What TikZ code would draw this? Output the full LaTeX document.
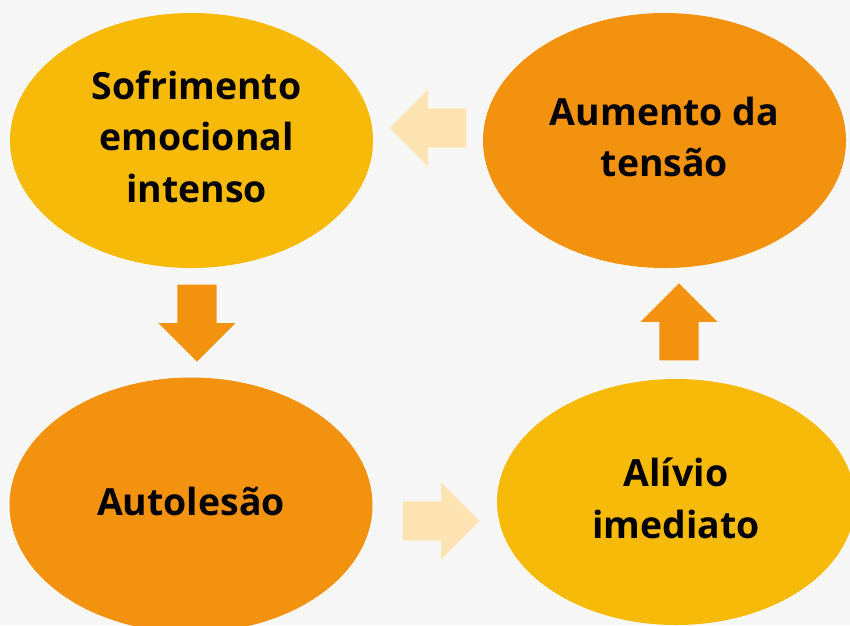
\documentclass[tikz,border=0pt]{standalone}
\usepackage{fontspec}
\setmainfont{Open Sans}
\usetikzlibrary{shapes.geometric,shapes.arrows}
\definecolor{fundo}{HTML}{F7F7F7}
\definecolor{ambar}{HTML}{F8BA08}
\definecolor{laranja}{HTML}{F3920E}
\definecolor{pessego}{HTML}{FFE4B3}
\tikzset{
  bolha/.style={ellipse, inner sep=0pt, minimum width=363pt, minimum height=255pt,
    align=center, font=\fontsize{37.4}{51.5}\selectfont\bfseries},
  seta/.style={single arrow, inner sep=19.5pt, minimum height=77pt,
    minimum width=77pt, single arrow head extend=19pt, anchor=tip}
}
\begin{document}
\begin{tikzpicture}[x=1pt,y=-1pt]
\fill [fundo] (0,0) rectangle (850,625);
\useasboundingbox (0,0) rectangle (850,625);
\clip (0,0) rectangle (850,625);
% the four stages
\node [bolha, fill=ambar] (sofrimento) at (191.5,140.5) {\strut\hspace{10pt}Sofrimento\\\strut\hspace{10pt}emocional\\\strut\hspace{10pt}intenso};
\node [bolha, fill=laranja] (tensao) at (664.5,140.5) {\strut Aumento da\\\strut tensão};
\node [bolha, fill=laranja] (autolesao) at (191,505) {\strut Autolesão};
\node [bolha, fill=ambar, minimum width=358pt, minimum height=246pt] (alivio) at (676,502) {\strut Alívio\\\strut imediato};
% arrows between them
\node [seta, fill=pessego, shape border rotate=180] (seta1) at (389,128) {};
\node [seta, fill=laranja, shape border rotate=270] (seta2) at (197,362) {};
\node [seta, fill=pessego, shape border rotate=0] (seta3) at (480,521) {};
\node [seta, fill=laranja, shape border rotate=90] (seta4) at (679,283) {};
\end{tikzpicture}
\end{document}
